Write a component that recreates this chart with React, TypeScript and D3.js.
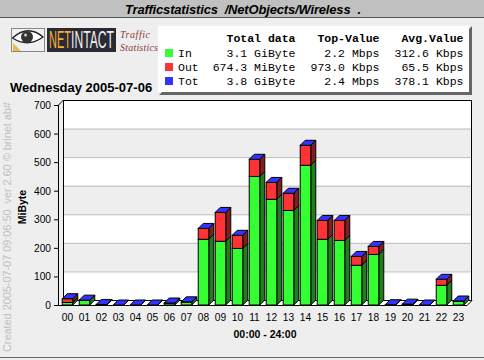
import React from 'react';
import * as d3 from 'd3';

const hours = ['00','01','02','03','04','05','06','07','08','09','10','11','12','13','14','15','16','17','18','19','20','21','22','23'];
const inValues = [9,16,1,0,0,0,6,10,230,223,198,450,370,331,489,230,226,139,177,1,2,0,69,13];
const outValues = [13,1,1,0,0,0,1,1,38,101,46,60,59,60,70,66,70,31,28,0,1,0,21,1];
const yTicks = [0,100,200,300,400,500,600,700];
const legendNames = ['In','Out','Tot'];
const legendColors = ['#33ff33','#ff3333','#3333ff'];
const legendTotal = ['3.1 GiByte','674.3 MiByte','3.8 GiByte'];
const legendTop = ['2.2 Mbps','973.0 Kbps','2.4 Mbps'];
const legendAvg = ['312.6 Kbps','65.5 Kbps','378.1 Kbps'];

const W = 484, H = 360;
const y = d3.scaleLinear().domain([0, 700]).range([305, 105]);
const x = d3.scaleBand().domain(hours).range([59, 467]).paddingInner(0.38).paddingOuter(0.19);
const DX = 5, DY = 5;
const sans = 'Liberation Sans, Arial, sans-serif';
const mono = 'Liberation Mono, Courier New, monospace';
const serif = 'Liberation Serif, serif';

const P = (pts: [number, number][]) => pts.map(p => p.join(',')).join(' ');

function Box({ x0, w, top, bottom, front, side }: any) {
  return (
    <g stroke="#000" strokeWidth={1}>
      <polygon points={P([[x0 + w, bottom], [x0 + w + DX, bottom - DY], [x0 + w + DX, top - DY], [x0 + w, top]])} fill={side} />
      <rect x={x0} y={top} width={w} height={bottom - top} fill={front} />
    </g>
  );
}

export default function App() {
  const bw = x.bandwidth();
  return (
    <svg width={W} height={H} style={{ position: 'absolute', left: 0, top: 0, display: 'block' }}>
      <rect width={W} height={H} fill="#eeeeee" />
      <rect width={W} height={17} fill="#c0c0c0" />
      <line x1={0} x2={W} y1={17.5} y2={17.5} stroke="#555" />
      <rect x={0} y={357} width={W} height={1} fill="#666" />
      <text x={125} y={13.5} fontFamily={sans} fontWeight="bold" fontStyle="italic" fontSize={13} textLength={236} style={{ whiteSpace: 'pre' }}>{'Trafficstatistics  /NetObjects/Wireless  .'}</text>

      {/* logo */}
      <g>
        <rect x={11.5} y={28.5} width={33} height={23} fill="#f0f0f0" stroke="#888" />
        <path d="M12.5,38 Q28,24 43,37 Q28,48 12.5,38Z" fill="#fff" stroke="#222" strokeWidth={1.3} />
        <circle cx={27} cy={37} r={6} fill="#333" />
        <circle cx={25.5} cy={35} r={1.5} fill="#ccc" />
        <polygon points="13,43 21,51 13,51" fill="#f0b848" />
        <rect x={47} y={28} width={69} height={24} fill="#2a2a35" />
        <text x={49} y={48} fontFamily={sans} fontSize={24} textLength={22} lengthAdjust="spacingAndGlyphs" fill="#f5b030">NET</text>
        <text x={71} y={48} fontFamily={sans} fontSize={24} textLength={43} lengthAdjust="spacingAndGlyphs" fill="#eeeeee">INTACT</text>
        <text x={120} y={38} fontFamily={serif} fontStyle="italic" fontSize={10} textLength={30} fill="#8a3a3a">Traffic</text>
        <text x={120} y={51} fontFamily={serif} fontStyle="italic" fontSize={10} textLength={38} fill="#8a3a3a">Statistics</text>
      </g>

      {/* legend */}
      <polygon points={P([[159, 95], [162, 92], [469, 92], [469, 29], [472, 26], [472, 95]])} fill="#666" />
      <rect x={158} y={26} width={311} height={66} fill="#fff" />
      {legendNames.map((n, i) => {
        const yy = 57 + i * 14;
        return (
          <g key={n} fontFamily={mono} fontSize={11.5}>
            <rect x={165} y={yy - 8} width={8} height={8} fill={legendColors[i]} />
            <text x={178} y={yy}>{n}</text>
            <text x={295.5} y={yy} textAnchor="end">{legendTotal[i]}</text>
            <text x={379.5} y={yy} textAnchor="end">{legendTop[i]}</text>
            <text x={463.5} y={yy} textAnchor="end">{legendAvg[i]}</text>
          </g>
        );
      })}
      <g fontFamily={mono} fontSize={11.5} fontWeight="bold">
        <text x={295.5} y={42} textAnchor="end">Total data</text>
        <text x={379.5} y={42} textAnchor="end">Top-Value</text>
        <text x={463.5} y={42} textAnchor="end">Avg.Value</text>
      </g>

      <text x={10} y={92} fontFamily={sans} fontWeight="bold" fontSize={13}>Wednesday 2005-07-06</text>

      {/* wall */}
      <rect x={63} y={100} width={409} height={200} fill="#fff" />
      {yTicks.slice(0, -1).map((t, i) => i % 2 === 1 ? (
        <rect key={t} x={63} y={y(yTicks[i + 1]) - DY} width={409} height={y(t) - y(yTicks[i + 1])} fill="#eeeeee" />
      ) : null)}
      {yTicks.slice(1).map(t => (
        <line key={t} x1={63} x2={472} y1={y(t) - DY + 0.5} y2={y(t) - DY + 0.5} stroke="#bbbbbb" />
      ))}
      {/* floor */}
      <polygon points={P([[58, 305], [63, 300], [472, 300], [467, 305]])} fill="#fff" />
      <rect x={63.5} y={100.5} width={408} height={200} fill="none" stroke="#000" />
      <line x1={58.5} x2={58.5} y1={105} y2={305} stroke="#000" />
      <line x1={58.5} x2={63.5} y1={105} y2={100} stroke="#000" />
      <line x1={58} x2={467} y1={305.5} y2={305.5} stroke="#000" />
      <line x1={467} x2={472} y1={305.5} y2={300.5} stroke="#000" />
      {yTicks.map(t => (
        <g key={t}>
          <line x1={54} x2={58} y1={y(t) + 0.5} y2={y(t) + 0.5} stroke="#000" />
          <text x={51} y={y(t) + 4} textAnchor="end" fontFamily={sans} fontSize={10.2}>{t}</text>
        </g>
      ))}

      {/* bars */}
      {hours.map((h, i) => {
        const x0 = x(h)!;
        const a = inValues[i];
        const b = a + outValues[i];
        const yIn = y(a), yTot = y(b);
        return (
          <g key={h}>
            <Box x0={x0} w={bw} top={yIn} bottom={305} front="#33ff33" side="#1f7f1f" />
            <Box x0={x0} w={bw} top={yTot} bottom={yIn} front="#ff3333" side="#7f1f1f" />
            <polygon points={P([[x0, yTot], [x0 + DX, yTot - DY], [x0 + bw + DX, yTot - DY], [x0 + bw, yTot]])} fill="#3333ff" stroke="#000" />
            <text x={x0 + bw / 2} y={321} textAnchor="middle" fontFamily={sans} fontSize={10.2}>{h}</text>
          </g>
        );
      })}
      <text x={265} y={338} textAnchor="middle" fontFamily={sans} fontWeight="bold" fontSize={10.5}>00:00 - 24:00</text>
      <text transform="translate(26,207) rotate(-90)" textAnchor="middle" fontFamily={sans} fontWeight="bold" fontSize={10.5}>MiByte</text>
      <text transform="translate(11,352) rotate(-90)" fontFamily={sans} fontSize={11} textLength={250} fill="#c0c0c0" style={{ whiteSpace: 'pre' }}>{'Created 2005-07-07 09:06:50  ver 2.60 © brinet ab#'}</text>
    </svg>
  );
}
